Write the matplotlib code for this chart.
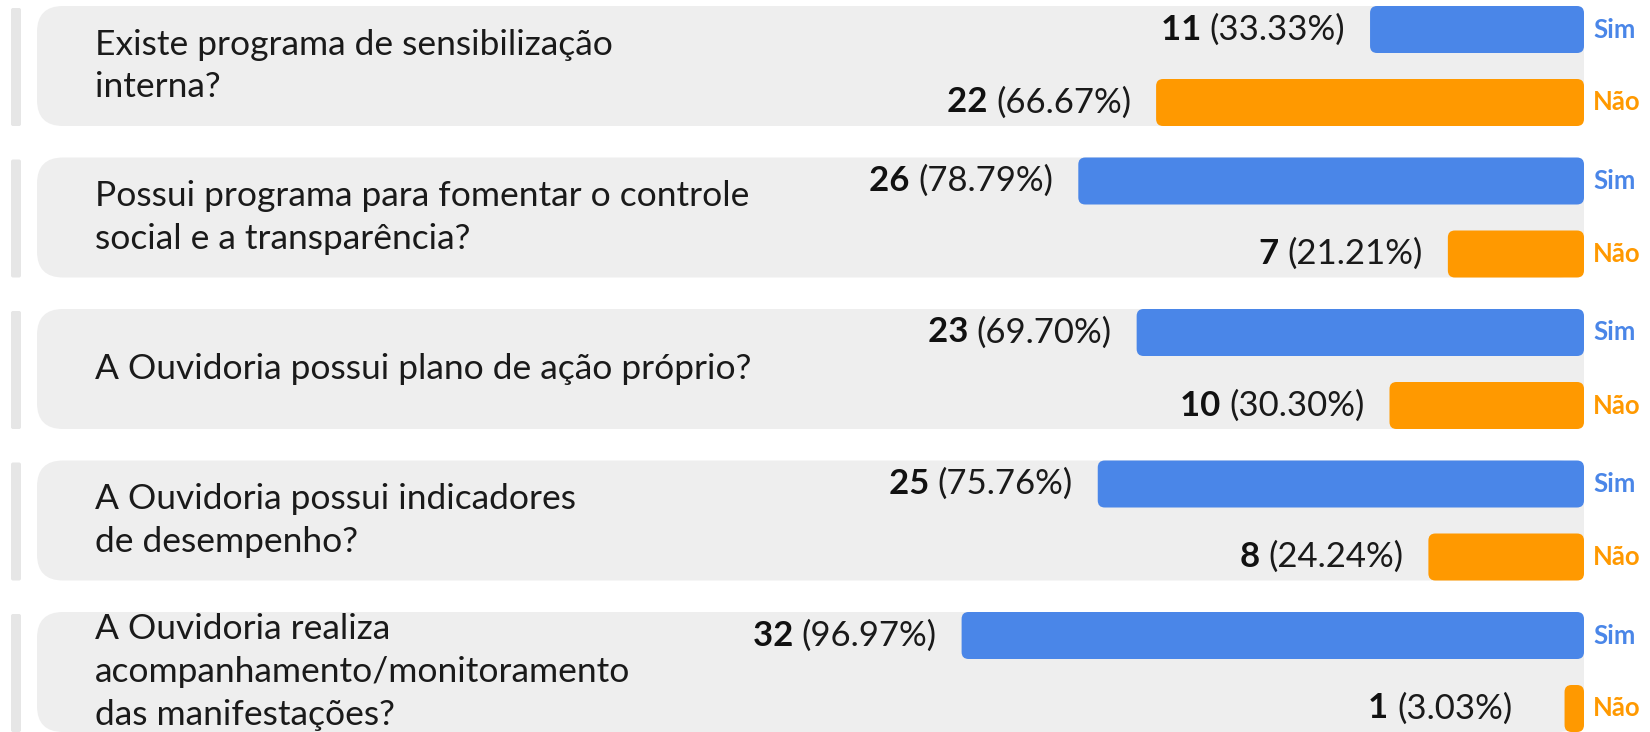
import numpy as np
import matplotlib.pyplot as plt
from matplotlib.patches import FancyBboxPatch

plt.rcParams['font.family'] = ['Lato', 'DejaVu Sans']

# data
questions = [
    "Existe programa de sensibilização\ninterna?",
    "Possui programa para fomentar o controle\nsocial e a transparência?",
    "A Ouvidoria possui plano de ação próprio?",
    "A Ouvidoria possui indicadores\nde desempenho?",
    "A Ouvidoria realiza\nacompanhamento/monitoramento\ndas manifestações?",
]
sim = [11, 26, 23, 25, 32]
nao = [22, 7, 10, 8, 1]
total = 33

BLUE = '#4a86e8'
ORANGE = '#ff9900'
GREY = '#eeeeee'

W, H = 1650, 732
right_px = 1584        # where the bars end
px_per_count = 19.45
row_pitch = 151.5
row_top0 = 6
row_h = 120
bar_h = 47

fig = plt.figure(figsize=(W / 100, H / 100), dpi=100)

# background axes in pixel units
bg = fig.add_axes([0, 0, 1, 1])
bg.set_xlim(0, W)
bg.set_ylim(H, 0)
bg.axis('off')

# bar axes: x in counts, growing leftwards from right_px
ax = fig.add_axes([0, 0, 1, 1], facecolor='none')
ax.set_xlim(right_px / px_per_count, -(W - right_px) / px_per_count)
ax.set_ylim(H, 0)
ax.axis('off')

n = len(questions)
tops = row_top0 + row_pitch * np.arange(n)
y_sim = tops + bar_h / 2
y_nao = tops + row_h - bar_h / 2

for i in range(n):
    # left stripe and rounded panel
    bg.add_patch(FancyBboxPatch((11, tops[i] + 2), 10, row_h - 2,
                                boxstyle='round,pad=0,rounding_size=2',
                                fc='#e6e6e6', ec='none'))
    bg.add_patch(FancyBboxPatch((37, tops[i]), right_px - 37, row_h,
                                boxstyle='round,pad=0,rounding_size=26',
                                fc=GREY, ec='none'))
    bg.text(95, tops[i] + row_h / 2, questions[i], fontsize=25.5,
            color='#1a1a1a', va='center', ha='left', linespacing=1.42)

# bars, with rounded corners drawn over the barh rectangles
r = 7 / px_per_count
for vals, ys, col in [(sim, y_sim, BLUE), (nao, y_nao, ORANGE)]:
    bars = ax.barh(ys, vals, height=bar_h, color=col)
    for b in bars:
        x0, y0 = b.get_x(), b.get_y()
        w, h = b.get_width(), b.get_height()
        b.set_visible(False)
        ax.add_patch(FancyBboxPatch((x0, y0), w, h,
                                    boxstyle=f'round,pad=0,rounding_size={r}',
                                    mutation_aspect=px_per_count,
                                    fc=col, ec='none'))

# value labels
for vals, ys in [(sim, y_sim), (nao, y_nao)]:
    for v, y in zip(vals, ys):
        xl = max(v, 2.4) + 25 / px_per_count
        t = ax.text(xl, y, f"({v / total * 100:.2f}%)", fontsize=25,
                    ha='right', va='center', color='#1a1a1a')
        ax.annotate(f"{v} ", xy=(0, 0.5), xycoords=t, fontsize=25,
                    fontweight='bold', ha='right', va='center', color='#111111')

# Sim / Não labels on the right
for y in y_sim:
    ax.text(-9 / px_per_count, y, "Sim", fontsize=18.5, fontweight='bold',
            color=BLUE, ha='left', va='center')
for y in y_nao:
    ax.text(-9 / px_per_count, y, "Não", fontsize=18.5, fontweight='bold',
            color=ORANGE, ha='left', va='center')

fig.savefig('out.png', dpi=100)
